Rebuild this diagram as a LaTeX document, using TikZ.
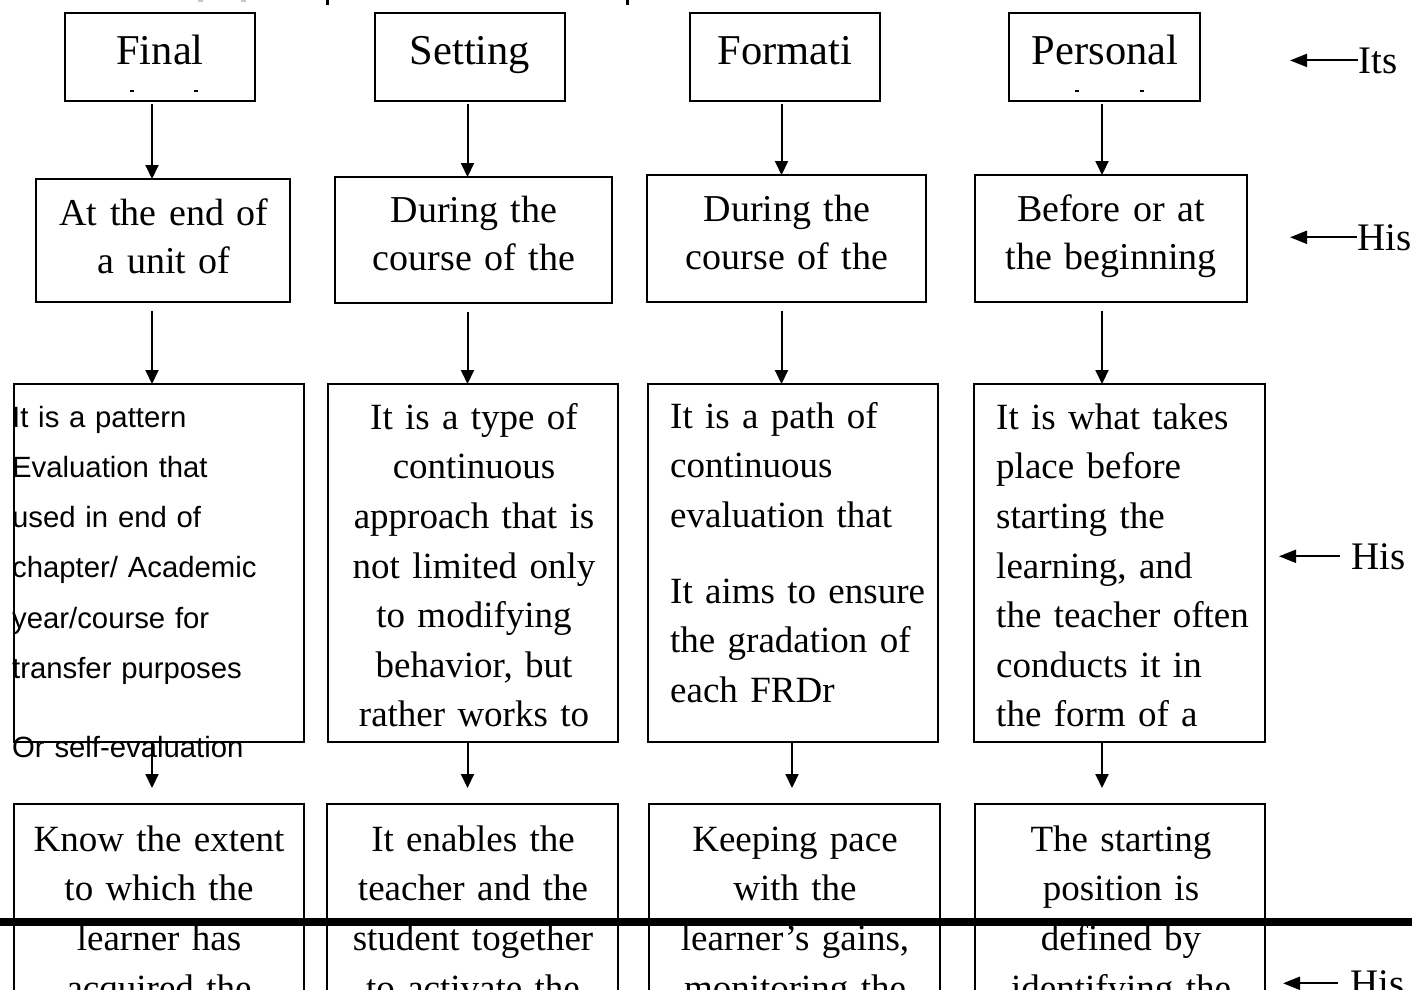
\documentclass[tikz,border=0pt]{standalone}
\usepackage{fontspec}
\setmainfont{Liberation Serif}
\newfontfamily\arialfont{Liberation Sans}
\newfontfamily\rowtwofont{Liberation Serif}[WordSpace={0.8,0,0}]
\usetikzlibrary{arrows.meta}
\begin{document}
\begin{tikzpicture}[x=1pt,y=-1pt,
  bx/.style={draw, line width=1.8pt, inner sep=0pt, outer sep=0pt},
  ttl/.style={font=\fontsize{42.5}{50}\selectfont, inner sep=0pt, anchor=base},
  midtxt/.style={font=\rowtwofont\fontsize{38}{48}\selectfont, inner sep=0pt, anchor=north, align=center, text width=330pt},
  bodyc/.style={font=\fontsize{37}{49.6}\selectfont, inner sep=0pt, anchor=north, align=center, text width=330pt},
  bodyl/.style={font=\fontsize{37}{49.6}\selectfont, inner sep=0pt, anchor=north west, align=left, text width=300pt},
  arl/.style={font=\arialfont\fontsize{29.3}{50.2}\selectfont, inner sep=0pt, anchor=north west, align=left, text width=300pt},
  lab/.style={font=\fontsize{39}{48}\selectfont, inner sep=0pt, anchor=base west},
  vline/.style={line width=2pt, -{Triangle[length=14pt,width=13pt]}},
  hline/.style={line width=2pt, -{Triangle[length=17pt,width=13pt]}}
]
\useasboundingbox (0,0) rectangle (1412,989);
\clip (0,0) rectangle (1412,989);

% ---------- row 1 boxes ----------
\node[bx, minimum width=190pt, minimum height=88pt] (f1) at (160,57) {};
\node[bx, minimum width=190pt, minimum height=88pt] (f2) at (470,57) {};
\node[bx, minimum width=190pt, minimum height=88pt] (f3) at (785,57) {};
\node[bx, minimum width=191pt, minimum height=88pt] (f4) at (1104.5,57) {};
\node[ttl] (tf1) at (160,64) {Final};
\node[ttl] (tf2) at (470,64) {Setting};
\node[ttl] (tf3) at (785,64) {Formati};
\node[ttl] (tf4) at (1105,64) {Personal};

% ---------- row 2 boxes ----------
\node[bx, minimum width=254pt, minimum height=123pt] (w1) at (163,240.5) {};
\node[bx, minimum width=277pt, minimum height=126pt] (w2) at (473.5,240) {};
\node[bx, minimum width=279pt, minimum height=127pt] (w3) at (786.5,238.5) {};
\node[bx, minimum width=272pt, minimum height=127pt] (w4) at (1111,238.5) {};
\node[midtxt] (tw1) at (164,185) {\rule{0pt}{40pt}At the end of\\a unit of};
\node[midtxt] (tw2) at (474,182) {\rule{0pt}{40pt}During the\\course of the};
\node[midtxt] (tw3) at (787,181) {\rule{0pt}{40pt}During the\\course of the};
\node[midtxt] (tw4) at (1111,181) {\rule{0pt}{40pt}Before or at\\the beginning};

% ---------- row 3 boxes ----------
\node[bx, line width=1.6pt, minimum width=290pt, minimum height=358pt] (d1) at (159,563) {};
\node[bx, line width=1.6pt, minimum width=290pt, minimum height=358pt] (d2) at (473,563) {};
\node[bx, line width=1.6pt, minimum width=290pt, minimum height=358pt] (d3) at (793,563) {};
\node[bx, line width=1.6pt, minimum width=291pt, minimum height=358pt] (d4) at (1119.5,563) {};
\node[arl] (td1) at (12,387) {\rule{0pt}{40pt}It is a pattern\\Evaluation that\\used in end of\\chapter/ Academic\\year/course for\\transfer purposes\\[29pt]Or self-evaluation};
\node[bodyc] (td2) at (474,389) {\rule{0pt}{40pt}It is a type of\\continuous\\approach that is\\not limited only\\to modifying\\behavior, but\\rather works to};
\node[bodyl] (td3) at (670,388) {\rule{0pt}{40pt}It is a path of\\continuous\\evaluation that\\[26pt]It aims to ensure\\the gradation of\\each FRDr};
\node[bodyl] (td4) at (996,389) {\rule{0pt}{40pt}It is what takes\\place before\\starting the\\learning, and\\the teacher often\\conducts it in\\the form of a};

% ---------- row 4 boxes ----------
\node[bx, line width=1.6pt, minimum width=290pt, minimum height=236pt] (a1) at (159,922) {};
\node[bx, line width=1.6pt, minimum width=291pt, minimum height=236pt] (a2) at (472.5,922) {};
\node[bx, line width=1.6pt, minimum width=291pt, minimum height=236pt] (a3) at (794.5,922) {};
\node[bx, line width=1.6pt, minimum width=290pt, minimum height=236pt] (a4) at (1120,922) {};
\node[bodyc] (ta1) at (159,811) {\rule{0pt}{40pt}Know the extent\\to which the\\learner has\\acquired the};
\node[bodyc] (ta2) at (473,811) {\rule{0pt}{40pt}It enables the\\teacher and the\\student together\\to activate the};
\node[bodyc] (ta3) at (795,811) {\rule{0pt}{40pt}Keeping pace\\with the\\learner’s gains,\\monitoring the};
\node[bodyc] (ta4) at (1121,811) {\rule{0pt}{40pt}The starting\\position is\\defined by\\identifying the};

% ---------- vertical connectors ----------
\coordinate (c1) at (152,0);
\coordinate (c2) at (467.5,0);
\coordinate (c3) at (781.5,0);
\coordinate (c3b) at (792,0);
\coordinate (c4) at (1102,0);
\foreach \col/\cx in {1/c1,2/c2,3/c3,4/c4}{
  \draw[vline, shorten <=3pt] (f\col.south -| \cx) -- (w\col.north -| \cx);
  \draw[vline, shorten <=9pt] (w\col.south -| \cx) -- (d\col.north -| \cx);
}
\draw[vline, shorten >=16pt] (d1.south -| c1) -- (a1.north -| c1);
\draw[vline, shorten >=16pt] (d2.south -| c2) -- (a2.north -| c2);
\draw[vline, shorten >=16pt] (d3.south -| c3b) -- (a3.north -| c3b);
\draw[vline, shorten >=16pt] (d4.south -| c4) -- (a4.north -| c4);

% ---------- side labels ----------
\node[lab] (l1) at (1358,73) {Its};
\node[lab] (l2) at (1357,250) {His};
\node[lab] (l3) at (1351,569) {His};
\node[lab] (l4) at (1350,996) {His};
\coordinate (t1) at (1290,0);
\coordinate (t2) at (1290,0);
\coordinate (t3) at (1279,0);
\coordinate (t4) at (1283,0);
\draw[hline] (l1.west) -- (l1.west -| t1);
\draw[hline] (l2.west) -- (l2.west -| t2);
\draw[hline, shorten <=11pt] (l3.west) -- (l3.west -| t3);
\draw[hline, shorten <=12pt] (l4.west) -- (l4.west -| t4);

% ---------- thick rule ----------
\fill (0,918) rectangle (1412,926);

% ---------- clipped fragments ----------
\fill (130,89.5) rectangle (134,92);
\fill (194,89.5) rectangle (198,92);
\fill (1075,89.5) rectangle (1079,92);
\fill (1140,89.5) rectangle (1144,92);
\fill (325.5,0) rectangle (328.5,5);
\fill (625.5,0) rectangle (628.5,5);
\fill[gray!45] (198,0) rectangle (203,2);
\fill[gray!45] (241,0) rectangle (246,2);
\end{tikzpicture}
\end{document}
